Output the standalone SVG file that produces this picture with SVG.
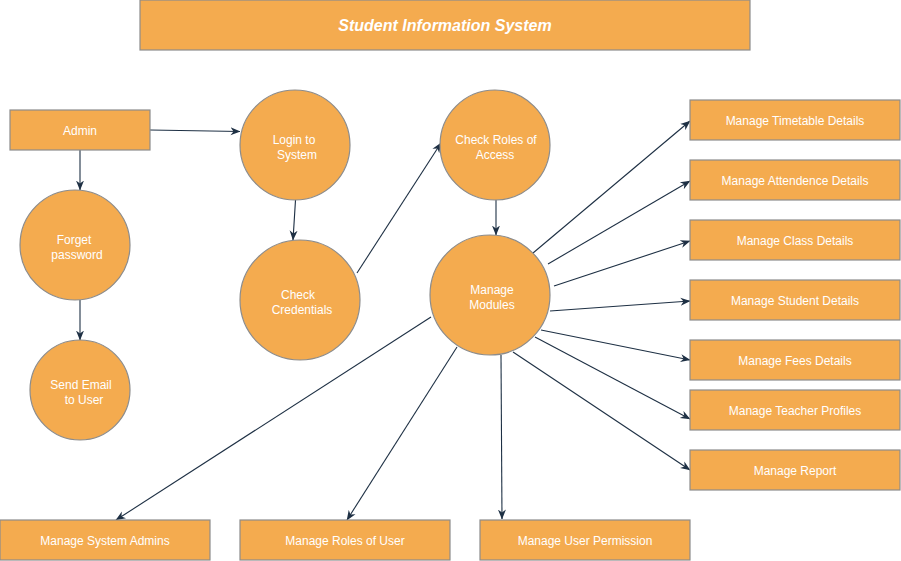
<svg xmlns="http://www.w3.org/2000/svg" width="901" height="561" viewBox="0 0 901 561">
  <style>
    .shape { fill: #F4AB4F; stroke: #8C8C8C; stroke-width: 1.2; }
    .lbl { font-family: "Liberation Sans", Arial, Helvetica, sans-serif; font-size: 12px; fill: #FFFFFF; text-anchor: middle; }
    .title { font-family: "Liberation Sans", Arial, Helvetica, sans-serif; font-size: 16px; font-weight: bold; font-style: italic; fill: #FFFFFF; text-anchor: middle; }
    .edge { fill: none; stroke: #1E3044; stroke-width: 1.1; marker-end: url(#arrow); }
  </style>
  <defs>
    <marker id="arrow" viewBox="0 0 10 10" refX="9.5" refY="5" markerWidth="10" markerHeight="10" markerUnits="userSpaceOnUse" orient="auto">
      <path d="M0,1 L10,5 L0,9 L3,5 z" fill="#1E3044"/>
    </marker>
  </defs>

  <rect width="901" height="561" fill="#FFFFFF"/>

  <g id="title">
    <rect class="shape" x="140" y="0" width="610" height="50"/>
    <text class="title" x="445" y="31">Student Information System</text>
  </g>

  <g id="connectors">
    <line class="edge" x1="150" y1="130" x2="240" y2="131.5"/>
    <line class="edge" x1="80" y1="150" x2="80" y2="190"/>
    <line class="edge" x1="80" y1="300" x2="80" y2="340"/>
    <line class="edge" x1="295.5" y1="200" x2="293" y2="240"/>
    <line class="edge" x1="357" y1="273" x2="441" y2="143"/>
    <line class="edge" x1="496" y1="200" x2="496" y2="235"/>
    <line class="edge" x1="533" y1="253" x2="690" y2="121"/>
    <line class="edge" x1="548" y1="264" x2="690" y2="181"/>
    <line class="edge" x1="554" y1="286" x2="690" y2="241"/>
    <line class="edge" x1="550" y1="311" x2="690" y2="301"/>
    <line class="edge" x1="541" y1="330" x2="690" y2="360"/>
    <line class="edge" x1="535" y1="337" x2="690" y2="419"/>
    <line class="edge" x1="513" y1="352" x2="690" y2="470"/>
    <line class="edge" x1="501" y1="355" x2="502" y2="519"/>
    <line class="edge" x1="457" y1="347" x2="347" y2="520"/>
    <line class="edge" x1="431" y1="317" x2="116" y2="520"/>
  </g>

  <g id="admin">
    <rect class="shape" x="10" y="110" width="140" height="40"/>
    <text class="lbl" x="80" y="135">Admin</text>
  </g>

  <g id="forget-password">
    <circle class="shape" cx="75" cy="245" r="55"/>
    <text class="lbl" x="74" y="244">Forget</text>
    <text class="lbl" x="77" y="259">password</text>
  </g>

  <g id="send-email">
    <circle class="shape" cx="80" cy="390" r="50"/>
    <text class="lbl" x="81" y="389">Send Email</text>
    <text class="lbl" x="84" y="404">to User</text>
  </g>

  <g id="login">
    <circle class="shape" cx="295" cy="145" r="55"/>
    <text class="lbl" x="294" y="144">Login to</text>
    <text class="lbl" x="297" y="159">System</text>
  </g>

  <g id="check-credentials">
    <circle class="shape" cx="300" cy="300" r="60"/>
    <text class="lbl" x="298" y="299">Check</text>
    <text class="lbl" x="302" y="314">Credentials</text>
  </g>

  <g id="check-roles">
    <circle class="shape" cx="495" cy="145" r="55"/>
    <text class="lbl" x="496" y="144">Check Roles of</text>
    <text class="lbl" x="495" y="159">Access</text>
  </g>

  <g id="manage-modules">
    <circle class="shape" cx="490" cy="295" r="60"/>
    <text class="lbl" x="492" y="294">Manage</text>
    <text class="lbl" x="492" y="309">Modules</text>
  </g>

  <g id="timetable">
    <rect class="shape" x="690" y="100" width="210" height="40"/>
    <text class="lbl" x="795" y="125">Manage Timetable Details</text>
  </g>
  <g id="attendence">
    <rect class="shape" x="690" y="160" width="210" height="40"/>
    <text class="lbl" x="795" y="185">Manage Attendence Details</text>
  </g>
  <g id="class">
    <rect class="shape" x="690" y="220" width="210" height="40"/>
    <text class="lbl" x="795" y="245">Manage Class Details</text>
  </g>
  <g id="student">
    <rect class="shape" x="690" y="280" width="210" height="40"/>
    <text class="lbl" x="795" y="305">Manage Student Details</text>
  </g>
  <g id="fees">
    <rect class="shape" x="690" y="340" width="210" height="40"/>
    <text class="lbl" x="795" y="365">Manage Fees Details</text>
  </g>
  <g id="teacher">
    <rect class="shape" x="690" y="390" width="210" height="40"/>
    <text class="lbl" x="795" y="415">Manage Teacher Profiles</text>
  </g>
  <g id="report">
    <rect class="shape" x="690" y="450" width="210" height="40"/>
    <text class="lbl" x="795" y="475">Manage Report</text>
  </g>

  <g id="system-admins">
    <rect class="shape" x="0" y="520" width="210" height="40"/>
    <text class="lbl" x="105" y="545">Manage System Admins</text>
  </g>
  <g id="roles-of-user">
    <rect class="shape" x="240" y="520" width="210" height="40"/>
    <text class="lbl" x="345" y="545">Manage Roles of User</text>
  </g>
  <g id="user-permission">
    <rect class="shape" x="480" y="520" width="210" height="40"/>
    <text class="lbl" x="585" y="545">Manage User Permission</text>
  </g>
</svg>
